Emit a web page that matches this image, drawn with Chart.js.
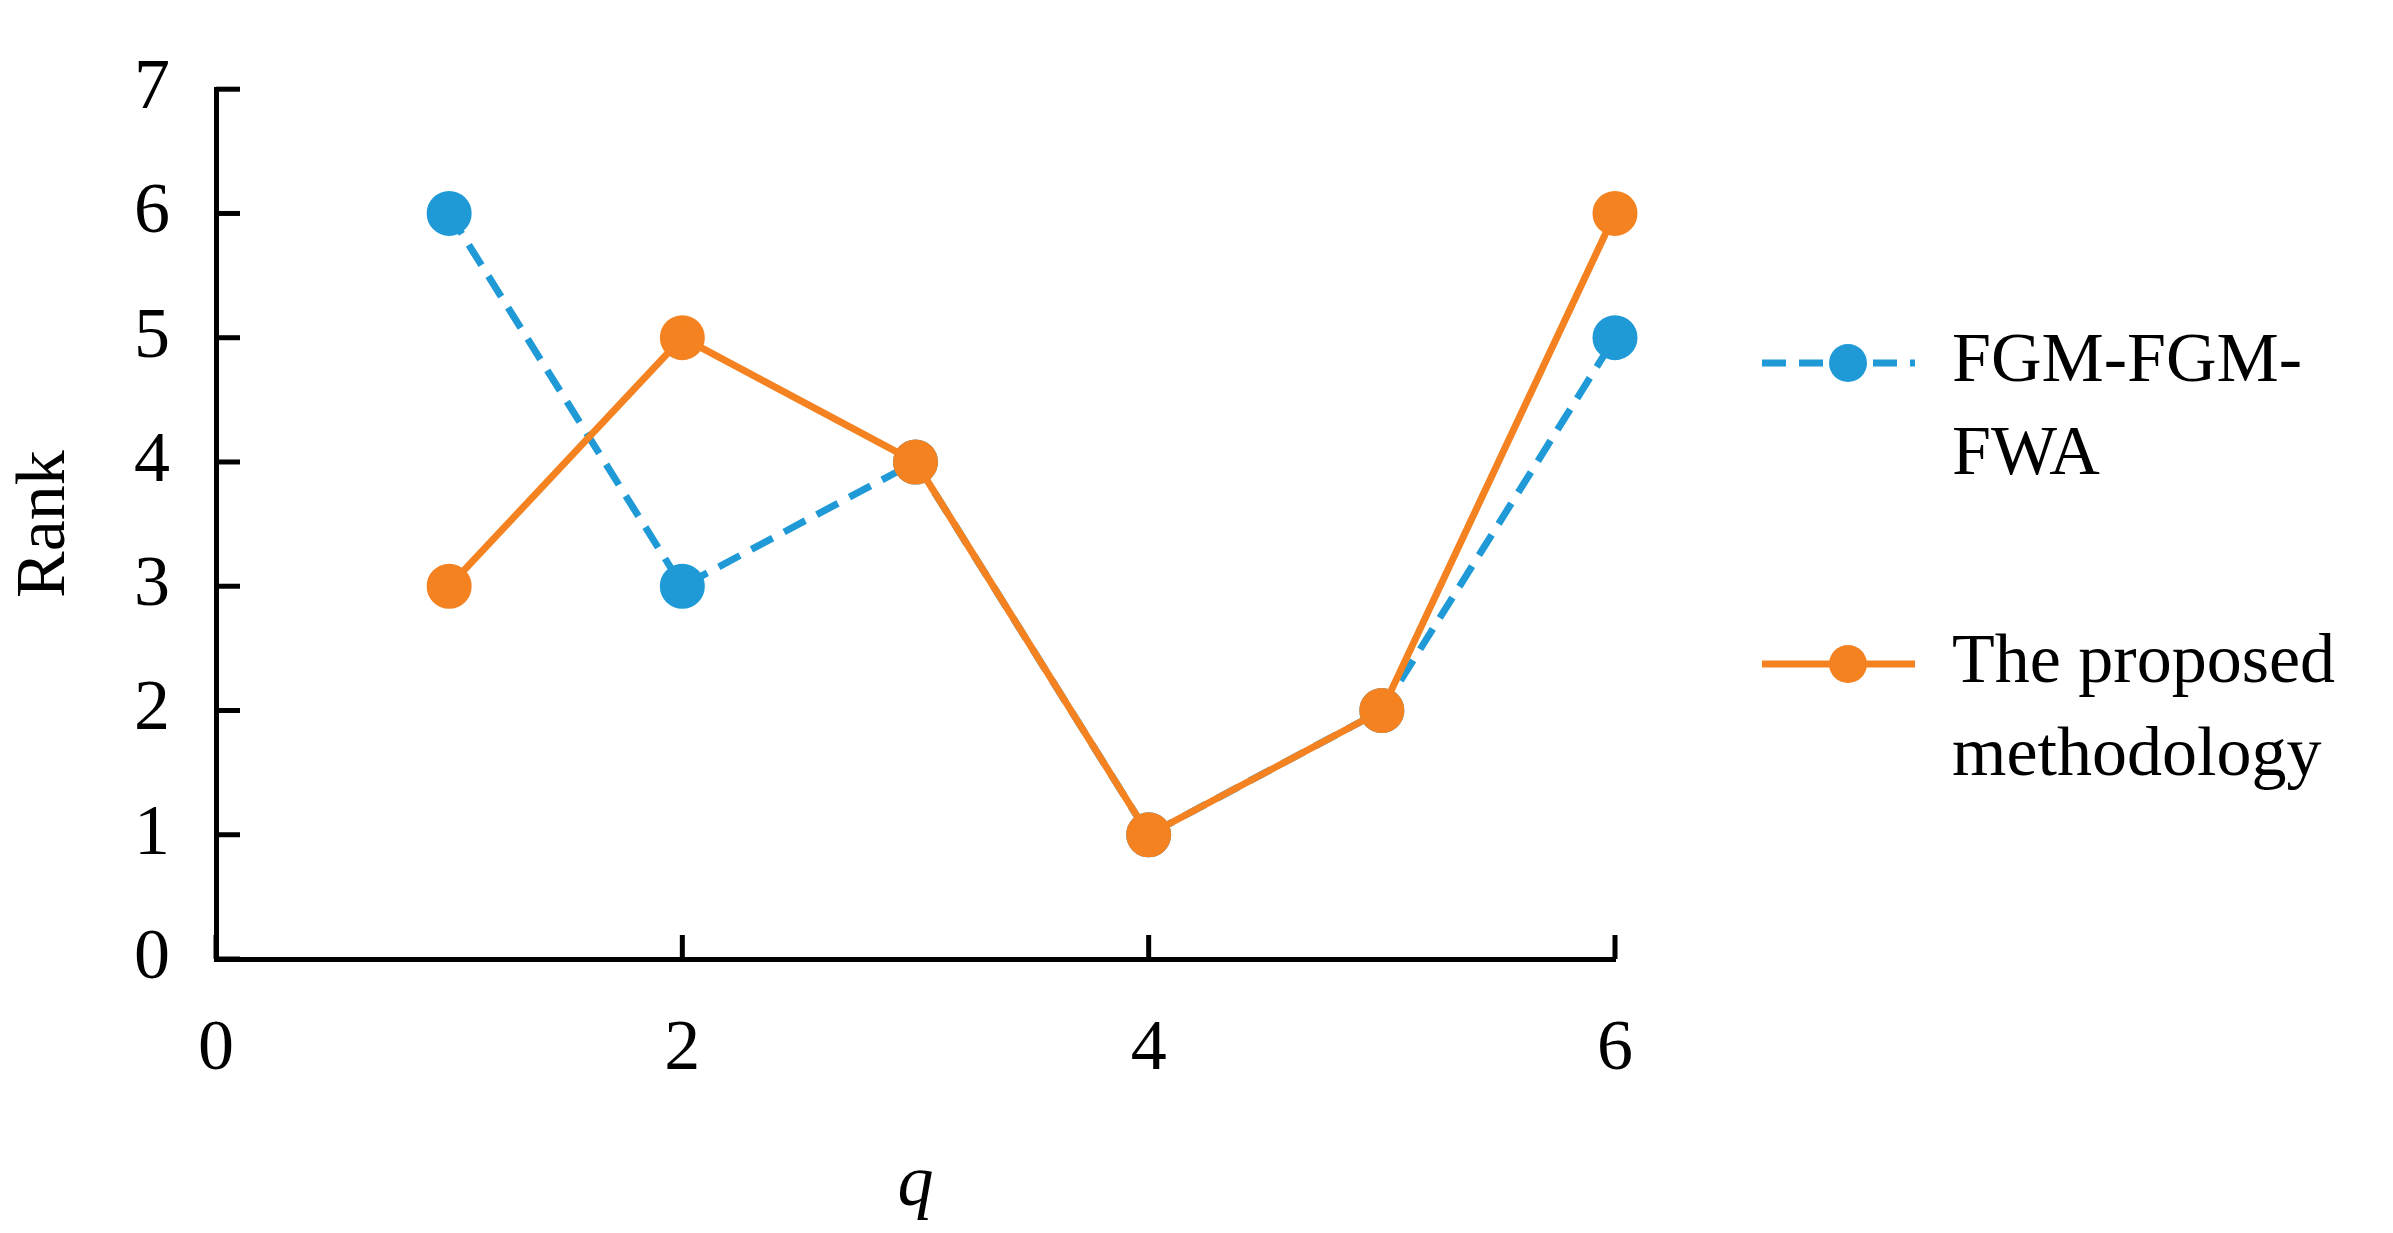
<!DOCTYPE html>
<html>
<head>
<meta charset="utf-8">
<script src="https://cdn.jsdelivr.net/npm/chart.js@4/dist/chart.umd.min.js"></script>
<style>
  html, body { margin: 0; padding: 0; background: #fff; }
  #wrap { width: 2393px; height: 1233px; }
</style>
</head>
<body>
<div id="wrap"><canvas id="rankChart"></canvas></div>
<script>
// data
const qValues = [1, 2, 3, 4, 5, 6];
const fgmRanks = [6, 3, 4, 1, 2, 5];
const proposedRanks = [3, 5, 4, 1, 2, 6];
const seriesNames = [['FGM-FGM-', 'FWA'], ['The proposed', 'methodology']];
const xTicks = [0, 2, 4, 6];

const blue = '#1f9ad6';
const orange = '#f58220';
const serif = '"Liberation Serif", "DejaVu Serif", serif';

const toPoints = ys => ys.map((y, i) => ({ x: qValues[i], y: y }));

// inward tick marks, like the original figure
const innerTicks = {
  id: 'innerTicks',
  afterDraw(chart) {
    const c = chart.ctx, xs = chart.scales.x, ys = chart.scales.y;
    c.save();
    c.strokeStyle = '#000';
    c.lineWidth = 5;
    for (let v = 0; v <= 7; v++) {
      const py = ys.getPixelForValue(v);
      c.beginPath(); c.moveTo(xs.left, py); c.lineTo(xs.left + 24, py); c.stroke();
    }
    xTicks.forEach(v => {
      const px = xs.getPixelForValue(v);
      c.beginPath(); c.moveTo(px, ys.bottom); c.lineTo(px, ys.bottom - 24); c.stroke();
    });
    c.restore();
  }
};

// legend on the right with wrapped labels
const sideLegend = {
  id: 'sideLegend',
  afterDraw(chart) {
    const c = chart.ctx;
    const rows = [363, 664];
    c.save();
    chart.data.datasets.forEach((ds, i) => {
      const y = rows[i];
      c.strokeStyle = ds.borderColor;
      c.lineWidth = 7;
      c.setLineDash(ds.borderDash || []);
      c.beginPath(); c.moveTo(1762, y); c.lineTo(1915, y); c.stroke();
      c.setLineDash([]);
      c.fillStyle = ds.backgroundColor;
      c.beginPath(); c.arc(1848, y, 19, 0, Math.PI * 2); c.fill();
      c.fillStyle = '#000';
      c.font = '70px ' + serif;
      c.textBaseline = 'middle';
      seriesNames[i].forEach((t, k) => c.fillText(t, 1952, y + k * 93));
    });
    c.restore();
  }
};

new Chart(document.getElementById('rankChart'), {
  type: 'line',
  data: {
    datasets: [
      {
        label: seriesNames[0].join(''),
        data: toPoints(fgmRanks),
        borderColor: blue, backgroundColor: blue,
        borderDash: [24, 13], borderWidth: 7,
        pointRadius: 19, pointHoverRadius: 19,
        order: 2, clip: false
      },
      {
        label: seriesNames[1].join(' '),
        data: toPoints(proposedRanks),
        borderColor: orange, backgroundColor: orange,
        borderWidth: 7,
        pointRadius: 19, pointHoverRadius: 19,
        order: 1, clip: false
      }
    ]
  },
  options: {
    responsive: true,
    maintainAspectRatio: false,
    animation: false,
    layout: { padding: { top: 30, right: 778, left: 0, bottom: 0 } },
    plugins: { legend: { display: false }, tooltip: { enabled: false } },
    scales: {
      x: {
        type: 'linear', min: 0, max: 6,
        afterBuildTicks: s => { s.ticks = xTicks.map(v => ({ value: v })); },
        afterFit: s => { s.height = 274; },
        grid: { display: false, drawTicks: false },
        border: { color: '#000', width: 5 },
        ticks: { color: '#000', font: { family: serif, size: 72 }, padding: 48 },
        title: { display: true, text: 'q', color: '#000', font: { family: serif, size: 72, style: 'italic' }, padding: { top: 14 } }
      },
      y: {
        min: 0, max: 7,
        ticks: { stepSize: 1, color: '#000', font: { family: serif, size: 72 }, padding: 46 },
        afterFit: s => { s.width = 216; },
        grid: { display: false, drawTicks: false },
        border: { color: '#000', width: 5 },
        title: { display: true, text: 'Rank', color: '#000', font: { family: serif, size: 70 }, padding: { bottom: 0 } }
      }
    }
  },
  plugins: [innerTicks, sideLegend]
});
</script>
</body>
</html>
